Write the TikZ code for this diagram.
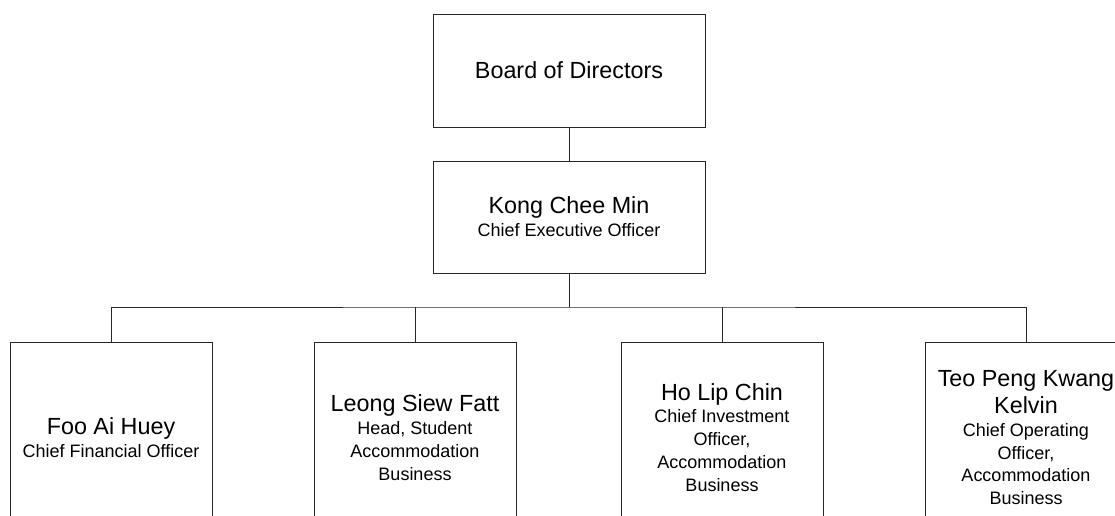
\documentclass[tikz,border=0pt]{standalone}
\usepackage{fontspec}
\setmainfont{Liberation Sans}
\newcommand{\who}[1]{{\fontsize{16.6pt}{24pt}\selectfont #1}}
\begin{document}
\begin{tikzpicture}[
  orgbox/.style={draw=black!85, line width=0.7pt, rectangle, align=center, font=\fontsize{12.8pt}{16.3pt}\selectfont},
  link/.style={draw=black!85, line width=0.7pt}]
 \useasboundingbox (0,0) rectangle (27.875,-12.9);
 \clip (0,0) rectangle (27.875,-12.9);

 \node[orgbox, minimum height=2.825cm, minimum width=6.8cm] (board) at (14.225,-1.7625) {\who{Board of Directors}};
 \node[orgbox, minimum height=2.8cm, minimum width=6.8cm] (ceo) at (14.225,-5.425) {\who{Kong Chee Min}\\Chief Executive Officer};

 \node[orgbox, minimum height=4.75cm, minimum width=5.05cm, anchor=north] (cfo) at (2.775,-8.55) {\who{Foo Ai Huey}\\Chief Financial Officer};
 \node[orgbox, minimum height=4.75cm, minimum width=5.05cm, anchor=north] (head) at (10.375,-8.55) {\who{Leong Siew Fatt}\\Head, Student\\Accommodation\\Business};
 \node[orgbox, minimum height=4.75cm, minimum width=5.05cm, anchor=north] (cio) at (18.05,-8.55) {\who{Ho Lip Chin}\\Chief Investment\\Officer,\\Accommodation\\Business};
 \node[orgbox, minimum height=4.75cm, minimum width=5.05cm, anchor=north] (coo) at (25.65,-8.55) {\who{Teo Peng Kwang}\\[3pt]\who{Kelvin}\\Chief Operating\\Officer,\\Accommodation\\Business};

 \coordinate (bus) at (14.225,-7.675);
 \draw[link] (board) -- (ceo);
 \draw[link] (ceo) -- (bus);
 \draw[link] (cfo.north) |- (bus) -| (coo.north);
 \draw[link] (head.north) -- (head.north |- bus);
 \draw[link] (cio.north) -- (cio.north |- bus);
\end{tikzpicture}
\end{document}
